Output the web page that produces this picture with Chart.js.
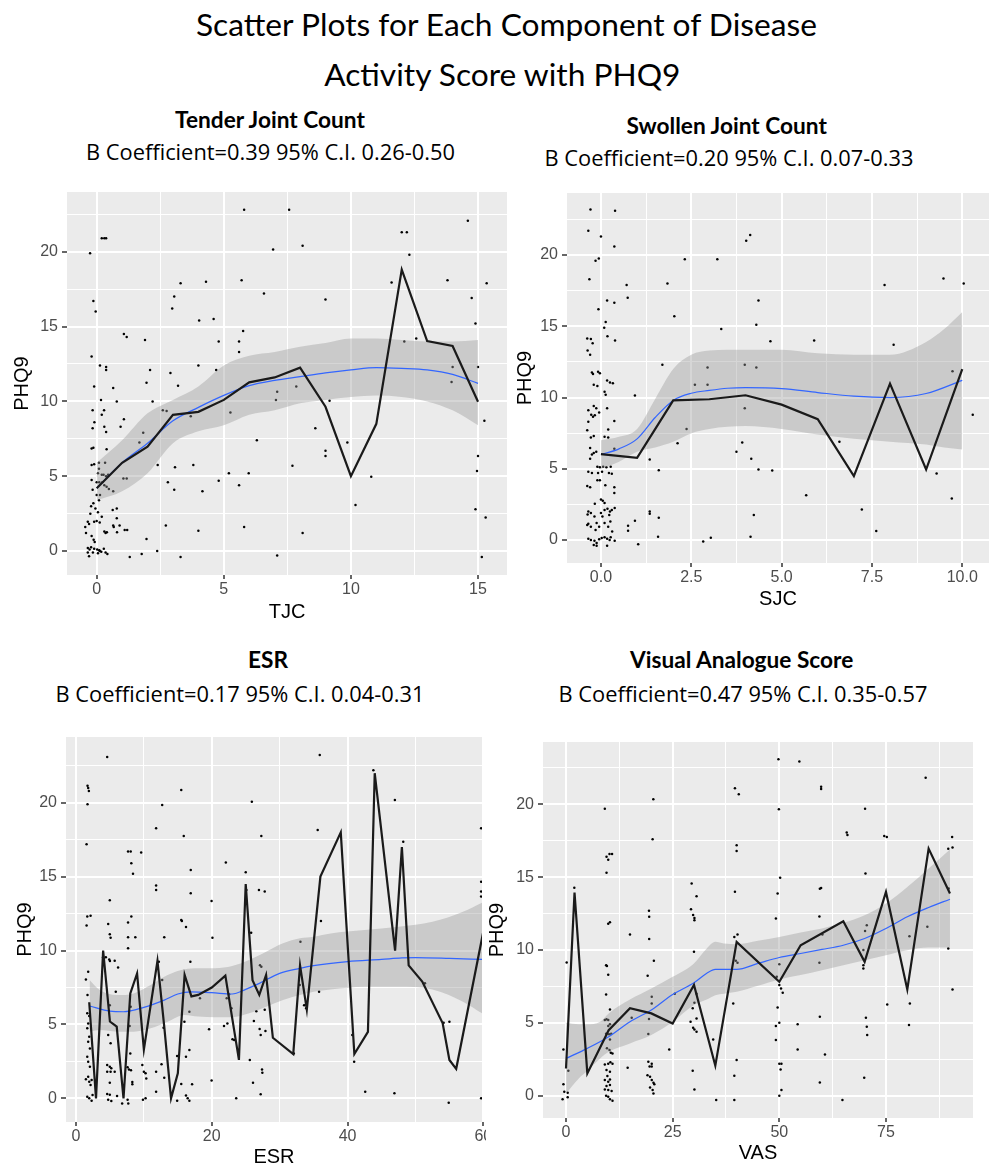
<!DOCTYPE html>
<html>
<head>
<meta charset="utf-8">
<script src="https://cdn.jsdelivr.net/npm/chart.js@4.4.1/dist/chart.umd.min.js"></script>
<style>
html, body { margin: 0; padding: 0; background: #fff; }
body { width: 993px; height: 1167px; position: relative; overflow: hidden; }
canvas { position: absolute; }
.txt { position: absolute; white-space: nowrap; line-height: 1; color: #000; }
</style>
</head>
<body>
<div id="title1" class="txt">Scatter Plots for Each Component of Disease</div>
<div id="title2" class="txt">Activity Score with PHQ9</div>
<div id="head1" class="txt">Tender Joint Count</div>
<div id="sub1" class="txt">B Coefficient=0.39 95% C.I. 0.26-0.50</div>
<div id="head2" class="txt">Swollen Joint Count</div>
<div id="sub2" class="txt">B Coefficient=0.20 95% C.I. 0.07-0.33</div>
<div id="head3" class="txt">ESR</div>
<div id="sub3" class="txt">B Coefficient=0.17 95% C.I. 0.04-0.31</div>
<div id="head4" class="txt">Visual Analogue Score</div>
<div id="sub4" class="txt">B Coefficient=0.47 95% C.I. 0.35-0.57</div>
<canvas id="c1" width="512" height="445"></canvas>
<canvas id="c2" width="493" height="440"></canvas>
<canvas id="c3" width="486" height="442"></canvas>
<canvas id="c4" width="506" height="437"></canvas>
<script>
// shared y axis (PHQ9)
const phqTicks = [0, 5, 10, 15, 20];
const phqMinor = [2.5, 7.5, 12.5, 17.5, 22.5];

// Tender joint count
const tjcTicks = [0, 5, 10, 15];
const tjcMinor = [2.5, 7.5, 12.5];
const tjcMean = [[0,4.2],[1,5.9],[2,6.97],[3,9.1],[4,9.3],[5,10.1],[6,11.27],[7,11.6],[8,12.25],[9,9.64],[10,5.0],[11,8.5],[12,18.8],[13,14.03],[14,13.7],[15,9.98]];
const tjcSmooth = [[0,4.2],[1,5.9],[2,7.2],[3,8.7],[4,9.6],[5,10.4],[6,11.05],[7,11.4],[8,11.65],[9,11.9],[10,12.1],[11,12.25],[12,12.2],[13,12.1],[14,11.8],[15,11.2]];
const tjcUpper = [[0,5.9],[1,7.4],[2,9.2],[3,10.1],[4,11.0],[5,12.4],[6,13.05],[7,13.3],[8,13.65],[9,13.9],[10,14.2],[11,14.2],[12,14.1],[13,14.0],[14,14.0],[15,14.1]];
const tjcLower = [[0,3.4],[1,4.0],[2,5.2],[3,7.2],[4,8.0],[5,8.4],[6,9.1],[7,9.4],[8,9.87],[9,10.1],[10,10.3],[11,10.4],[12,10.3],[13,10.0],[14,9.4],[15,8.4]];
const tjcPoints = [
  [-0.26,19.9],[-0.13,16.7],[-0.04,16.0],[-0.2,13.0],[-0.1,11.0],[0.2,20.9],[0.3,20.9],[0.37,20.9],
  [0.13,12.4],[0.37,12.3],[0.37,12.1],[0.17,10.1],[-0.16,9.4],[0.29,9.4],[0.2,9.1],[-0.09,8.6],[-0.16,8.2],[0.3,8.3],[0.37,7.95],
  [-0.2,6.85],[-0.13,6.9],[0.39,6.8],[-0.2,5.75],[-0.1,5.8],[0.09,5.9],[0.33,5.9],[0.09,5.5],[0.05,5.2],[0.2,5.1],[0.27,5.1],[0.37,5.0],[0.45,5.1],
  [-0.2,4.75],[0.0,4.6],[0.1,4.6],[0.22,4.6],[0.3,4.4],[0.39,4.3],[0.48,4.15],[-0.16,4.1],[0.0,3.75],[0.13,3.75],[-0.13,3.2],[0.09,3.4],[-0.05,2.85],
  [-0.22,3.0],[0.05,2.6],[0.2,2.3],[-0.25,2.5],[-0.35,1.95],[-0.3,1.8],[-0.1,1.95],[0.0,2.0],[0.12,1.9],[-0.45,1.6],[-0.42,1.2],[-0.2,1.0],
  [0.3,1.3],[0.35,1.2],[0.4,1.25],[-0.12,0.75],[-0.08,0.6],[-0.35,0.2],[-0.28,0.1],[-0.22,0.25],[-0.1,0.15],[0.02,0.1],[0.1,0.05],[0.18,-0.05],
  [0.28,0.15],[0.35,-0.1],[-0.35,-0.1],[-0.3,-0.35],[-0.15,-0.1],[0.05,-0.15],[0.12,0.0],[0.42,-0.2],
  [1.07,14.5],[1.18,14.3],[0.65,10.9],[0.79,10.0],[1.07,8.8],[0.94,8.3],[0.65,4.0],[0.63,2.75],[0.79,2.85],[1.05,4.85],[1.18,4.85],
  [0.65,1.7],[0.67,1.6],[0.9,1.7],[0.79,2.2],[1.1,1.4],[1.2,1.4],[1.3,-0.4],[0.8,1.25],
  [1.9,14.1],[2.1,12.1],[1.96,11.25],[1.83,7.9],[1.68,7.25],[1.96,0.8],[1.77,-0.2],[2.2,10.0],[2.4,5.75],[2.38,0.0],[2.6,9.4],[2.75,9.35],[2.8,4.6],[2.72,1.7],
  [3.3,17.9],[3.05,17.0],[2.97,16.2],[2.9,11.9],[3.2,11.05],[3.08,5.6],[3.05,4.1],[3.3,-0.4],
  [4.3,18.0],[4.03,15.4],[4.6,15.5],[4.0,12.4],[4.7,12.1],[3.7,9.0],[3.8,5.75],[4.16,4.0],[4.0,1.35],[4.8,14.0],[4.8,4.7],
  [5.8,22.8],[5.7,18.1],[5.76,14.7],[5.6,14.0],[5.6,13.3],[5.26,9.26],[5.2,5.2],[5.98,5.2],[5.6,4.4],[5.8,1.6],[6.3,7.4],
  [7.57,22.8],[6.94,20.15],[6.58,17.2],[7.1,10.65],[7.05,10.1],[7.1,-0.3],[7.7,5.7],
  [8.1,20.4],[7.85,11.0],[8.6,8.2],[9.0,16.8],[9.0,6.7],[9.0,6.35],[9.16,10.05],[8.1,1.2],
  [9.86,7.26],[10.18,3.07],[10.8,4.97],
  [12.0,21.3],[12.2,21.3],[12.3,19.8],[11.6,17.95],[12.1,14.0],[12.57,14.2],
  [14.6,22.07],[13.8,18.1],[14.75,16.9],[14.9,15.2],[14.0,12.3],[13.96,11.3],[15.0,12.3],[15.34,17.9],[15.25,8.7],[15.0,6.35],
  [14.96,5.35],[14.9,2.8],[15.3,2.25],[15.15,-0.4]
];

// Swollen joint count
const sjcTicks = [0, 2.5, 5, 7.5, 10];
const sjcMinor = [1.25, 3.75, 6.25, 8.75];
const sjcMean = [[0,6.03],[1,5.77],[2,9.8],[3,9.88],[4,10.16],[5,9.5],[6,8.48],[7,4.49],[8,10.98],[9,4.95],[10,11.99]];
const sjcSmooth = [[0,6.0],[0.5,6.4],[1,7.1],[1.5,8.6],[2,9.8],[2.5,10.3],[3,10.5],[3.5,10.65],[4,10.7],[5,10.63],[6,10.35],[7,10.1],[8,10.0],[9,10.28],[10,11.2]];
const sjcUpper = [[0,7.0],[0.5,7.24],[1,7.8],[1.5,9.9],[2,12.0],[2.5,13.0],[3,13.3],[4,13.36],[5,13.36],[6,13.1],[7,13.0],[8,13.0],[9,13.9],[9.5,14.8],[10,16.0]];
const sjcLower = [[0,5.0],[0.5,5.5],[1,6.2],[1.5,6.5],[2,6.9],[2.5,7.5],[3,7.8],[4,8.0],[5,7.8],[6,7.4],[7,7.1],[8,6.9],[9,6.7],[9.5,6.5],[10,6.35]];
const sjcPoints = [
  [-0.29,23.2],[0.39,23.1],[-0.35,21.7],[0.0,21.3],[0.37,20.6],[-0.15,19.6],[-0.06,19.75],[-0.32,18.3],[-0.07,16.2],[0.17,16.8],[0.37,16.65],
  [0.13,15.3],[0.09,14.9],[0.18,14.3],[0.39,14.0],[-0.38,14.15],[-0.28,14.1],[-0.23,13.8],[-0.37,13.3],[-0.3,13.0],
  [-0.25,11.75],[-0.22,11.65],[-0.08,11.8],[-0.03,11.7],[-0.2,10.9],[-0.1,10.8],[0.17,11.2],[0.25,11.05],[0.33,11.0],[0.1,10.4],[0.13,10.2],
  [-0.35,9.1],[-0.2,9.4],[-0.13,9.25],[-0.27,8.8],[-0.22,8.65],[-0.17,8.75],[-0.05,8.95],[0.17,9.25],[0.37,8.35],[-0.35,8.3],[-0.38,7.7],
  [-0.28,7.2],[-0.2,7.3],[0.1,7.25],[0.2,7.2],[0.2,7.75],[0.37,6.4],[-0.3,6.45],[-0.25,6.0],[-0.2,6.1],[-0.13,6.2],[-0.3,5.7],
  [-0.1,5.15],[-0.03,5.1],[0.06,5.15],[0.15,5.1],[0.27,5.15],[-0.35,4.8],[-0.25,4.7],[-0.08,4.7],[0.03,4.8],[0.22,4.7],[0.3,4.65],
  [-0.38,3.8],[-0.3,3.7],[-0.1,4.2],[-0.03,4.2],[0.12,3.85],[0.37,3.7],[0.37,3.3],
  [0.0,2.85],[0.05,2.75],[0.1,2.6],[-0.17,2.55],[0.18,2.2],[0.1,2.1],[0.25,2.0],[0.3,2.1],[0.38,2.25],[-0.35,2.0],[-0.37,1.8],[-0.28,1.9],
  [-0.18,1.65],[0.0,1.9],[0.04,1.65],[0.23,1.75],[0.26,1.3],
  [-0.35,1.15],[-0.38,1.05],[-0.28,0.93],[-0.12,1.2],[-0.05,0.93],[-0.15,0.7],[0.1,1.2],[0.2,0.93],[0.31,0.6],[0.27,0.2],
  [-0.35,0.1],[-0.28,0.0],[-0.18,-0.05],[-0.12,-0.2],[-0.05,0.05],[0.02,0.15],[0.1,0.2],[0.17,0.1],[0.24,0.0],[0.38,-0.05],[-0.2,-0.35],[-0.12,-0.4],[0.17,-0.4],
  [0.71,17.9],[0.74,17.0],[0.94,10.15],[0.75,1.0],[0.75,0.65],[0.94,1.35],[1.03,-0.3],[1.35,5.65],[1.35,2.0],[1.35,1.85],[1.6,4.9],[1.6,1.57],[1.58,0.23],
  [1.7,12.3],[1.84,18.0],[2.03,15.7],[2.12,6.8],[2.32,19.7],[2.37,7.8],[2.6,10.9],[2.83,-0.1],[3.04,0.16],[2.95,12.1],[2.95,10.9],[3.22,19.7],[3.33,14.8],
  [3.75,6.2],[3.91,6.85],[3.98,12.3],[3.98,9.25],[4.02,21.0],[4.13,21.4],[4.16,5.7],[4.14,0.23],[4.23,1.75],[4.3,15.1],[4.36,16.8],[4.3,12.1],[4.36,4.95],
  [4.69,13.95],[4.74,4.88],[5.68,3.15],[5.9,14.0],[6.6,6.9],[7.22,2.15],[7.62,0.63],[7.85,17.9],[8.1,13.7],[9.29,4.67],[9.48,18.35],[10.04,18.0],
  [9.73,11.85],[9.71,2.92],[10.29,8.8]
];

// ESR
const esrTicks = [0, 20, 40, 60];
const esrMinor = [10, 30, 50];
const esrMean = [[1.95,6.5],[2.95,0],[4,10],[5,5.2],[6,4.85],[7,0],[8,7.1],[9,8.45],[10,3.3],[12,9.3],[13,4.85],[14,0],[15,1.7],[16,8.35],[17,6.9],[18,7.0],
  [20,7.5],[22,8.3],[24,2.6],[25,14.5],[26,8.0],[27,7.0],[28,8.35],[29,4.1],[32,3.0],[33,9.0],[34,6.0],[36,15.0],[39,18.0],[41,3.0],[43,4.5],[44,22.0],
  [47,10.0],[48,17.0],[49,9.0],[51,7.9],[54,5.1],[55,2.6],[56,2.0],[60,11.3]];
const esrSmooth = [[2,6.25],[5,5.9],[7,5.86],[10,6.16],[13,6.65],[15,7.06],[17,7.2],[20,7.15],[23,7.06],[25,7.37],[27,7.78],[30,8.46],[33,8.8],[35,8.98],
  [40,9.25],[45,9.4],[48,9.5],[50,9.52],[55,9.47],[59.8,9.4]];
const esrUpper = [[2,8.0],[3.5,7.33],[6,6.99],[8.5,7.1],[11,7.67],[13.5,8.34],[16,8.73],[18,8.8],[20.5,8.8],[23,8.95],[25.5,9.36],[28,9.92],[30.5,10.49],
  [33,10.83],[35,10.94],[37.5,11.16],[42.5,11.39],[47.5,11.61],[52.5,11.95],[57,12.63],[59.8,13.24]];
const esrLower = [[2,4.51],[3.5,4.62],[6,4.51],[8.5,4.51],[11,4.74],[13.5,5.19],[16,5.64],[18,5.53],[20.5,5.48],[23,5.48],[25.5,5.75],[28,6.2],[30.5,6.65],
  [33,6.99],[35,7.22],[37.5,7.37],[42.5,7.55],[47.5,7.55],[52.5,7.37],[57,6.54],[59.8,5.75]];
const esrPoints = [
  [1.56,17.2],[1.7,21.15],[1.8,21.0],[1.9,20.8],[1.7,19.9],[1.66,12.3],[2.15,12.35],[1.56,11.7],[1.8,8.57],[1.46,8.05],[1.7,7.0],[1.66,5.75],[1.95,5.57],
  [1.8,5.07],[1.66,4.74],[1.95,4.17],[1.8,3.83],[2.05,3.38],[1.66,2.82],[1.8,2.48],[2.05,2.14],[1.46,1.29],[1.8,1.47],[1.95,1.13],[2.15,0.9],[2.3,1.24],
  [1.66,0.11],[1.95,0.0],[2.3,-0.16],[2.44,0.23],
  [4.6,23.1],[4.98,13.4],[4.74,11.8],[4.98,11.1],[5.1,10.87],[4.0,9.54],[4.4,9.54],[4.9,9.4],[5.0,9.3],[5.7,9.31],[6.2,8.86],[5.86,7.22],[4.98,6.3],
  [4.74,4.28],[5.1,3.72],[4.6,2.26],[4.98,2.14],[5.2,2.03],[4.6,1.8],[5.1,1.8],[5.7,1.8],[4.98,1.06],[4.6,0.3],[4.98,0.25],[4.74,-0.1],[5.2,-0.18],
  [6.05,0.16],[6.8,-0.34],
  [7.67,16.7],[8.06,16.7],[8.15,15.9],[8.4,15.2],[8.15,12.3],[7.67,11.9],[7.67,10.9],[7.67,10.15],[8.74,10.9],[9.6,16.64],[8.06,6.2],[7.9,4.9],[8.0,3.04],
  [7.6,2.1],[7.8,1.96],[8.1,1.9],[8.3,1.1],[8.3,0.95],[7.6,-0.1],[7.7,-0.34],[9.77,2.26],[10.0,1.8],[10.25,1.7],[10.35,1.35],[9.86,-0.1],[10.25,0.0],
  [11.8,18.27],[11.8,14.4],[11.8,14.1],[12.7,19.85],[12.2,9.25],[13.0,10.9],[12.6,2.3],[11.8,1.8],[13.0,1.4],[11.8,0.45],[12.9,4.78],[12.7,8.0],
  [14.9,2.86],[14.9,-0.16],
  [15.5,20.86],[15.87,17.75],[15.5,12.07],[15.6,12.0],[16.2,11.6],[16.9,15.45],[16.9,13.87],[16.85,9.25],[16.7,5.86],[15.97,5.19],[16.2,2.82],[16.7,3.27],
  [15.5,0.97],[16.2,0.2],[16.45,0.0],[16.7,-0.16],[17.1,0.95],[18.26,6.77],
  [19.97,13.35],[20.1,10.87],[19.6,4.67],[19.97,1.2],[22.07,15.95],[21.8,4.9],[22.3,5.07],[22.55,7.04],[22.2,6.77],[22.9,6.09],[23.05,4.0],[23.3,3.95],[23.6,0.0],
  [25.0,15.3],[25.1,14.1],[25.8,11.2],[25.9,20.07],[25.6,2.6],[26.07,1.06],[26.2,5.23],[26.95,14.1],[27.1,9.0],[27.3,8.9],[26.56,5.9],[27.05,4.7],[27.2,4.28],
  [27.4,1.96],[27.45,1.74],[27.2,0.27],[27.3,17.75],[27.8,14.0],[27.9,4.56],[27.8,6.0],
  [32.08,3.04],[33.06,10.6],[32.96,7.67],[33.6,6.3],[33.9,6.09],[35.6,18.15],[35.9,23.23],[36.08,12.0],[35.8,7.22],
  [40.7,4.28],[40.97,2.48],[42.6,0.45],[43.8,22.2],[46.97,20.18],[46.9,0.34],[48.2,17.37],[51.4,7.78],[54.15,5.12],[55.0,5.19],[54.9,-0.3],
  [59.67,18.27],[59.67,14.66],[59.67,14.0],[59.67,13.65],[59.67,0.0]
];

// Visual analogue score
const vasTicks = [0, 25, 50, 75];
const vasMinor = [12.5, 37.5, 62.5, 87.5];
const vasMean = [[0,1.87],[2,13.95],[5,1.53],[10,4.5],[15,6.0],[20,5.65],[25,4.96],[30,7.6],[35,2.06],[40,10.56],[50,7.82],[55,10.33],[65,11.98],
  [70,9.19],[75,13.99],[80,7.29],[85,16.96],[90,13.88]];
const vasSmooth = [[0,2.56],[5,3.25],[10,4.05],[15,5.08],[20,5.88],[25,6.95],[30,7.75],[33,8.4],[35,8.67],[37,8.67],[40,8.67],[45,9.08],[50,9.49],
  [55,9.76],[60,10.04],[65,10.33],[70,10.79],[75,11.48],[80,12.28],[85,12.92],[90,13.49]];
const vasUpper = [[0,5.0],[3,4.9],[5,4.9],[8,5.07],[10,5.65],[15,6.6],[20,7.36],[25,8.16],[30,9.08],[33,10.1],[35,10.56],[37,10.45],[40,10.4],[45,10.63],
  [50,10.9],[55,11.2],[60,11.48],[65,11.87],[70,12.39],[75,13.19],[80,14.33],[85,15.6],[90,16.9]];
const vasLower = [[0,0.16],[3,1.19],[5,1.71],[8,2.56],[10,3.02],[15,3.59],[20,4.16],[25,5.07],[30,6.22],[33,6.6],[35,6.9],[37,7.0],[40,7.13],[45,7.54],
  [50,7.98],[55,8.28],[60,8.62],[65,8.96],[70,9.3],[75,9.65],[80,9.99],[85,10.17],[90,10.17]];
const vasPoints = [
  [-0.6,0.78],[-0.8,-0.25],[-0.4,0.27],[-0.6,3.18],[0.16,9.14],[0.4,0.2],[0.4,-0.11],[0.55,1.71],[1.95,14.27],
  [9.1,19.7],[9.5,16.4],[9.9,16.2],[10.2,16.6],[10.8,16.6],[9.5,15.3],[9.9,11.8],[10.3,11.9],[9.4,8.96],[9.6,8.9],[9.9,8.3],[9.4,6.95],[10.3,5.92],
  [9.1,5.2],[9.5,5.25],[9.9,5.2],[10.3,4.9],[9.4,4.25],[10.1,4.22],[10.6,4.25],[9.9,4.78],[10.3,3.86],[9.6,3.25],[10.2,3.13],[10.5,2.95],[10.9,2.9],
  [9.1,2.15],[9.9,2.2],[10.4,2.3],[10.9,2.2],[9.5,1.76],[10.3,1.65],[9.7,1.35],[9.1,1.07],[9.9,0.96],[10.3,1.12],[9.5,0.66],[10.3,0.73],
  [9.1,0.43],[9.9,0.39],[10.7,0.32],[9.4,0.0],[9.9,-0.07],[10.3,-0.25],[10.9,-0.34],
  [15.0,11.07],[14.45,1.92],[15.4,5.35],
  [20.47,20.35],[20.3,17.6],[19.45,12.7],[19.5,12.28],[19.5,10.75],[20.6,9.26],[19.14,8.23],[20.1,6.8],[20.1,6.33],[19.45,5.26],[19.3,4.23],
  [19.3,2.33],[20.1,2.2],[19.6,2.0],[20.1,2.0],[19.1,1.41],[19.7,1.3],[20.1,1.07],[20.5,0.89],[20.7,0.78],[19.7,0.57],[20.3,0.39],[20.5,0.16],
  [24.2,3.18],[25.5,7.0],
  [29.45,14.56],[29.3,12.8],[29.8,12.4],[30.1,12.2],[30.1,12.05],[30.6,13.7],[30.0,9.88],[29.7,6.0],[30.1,6.38],[30.6,7.0],[29.2,5.08],[29.8,4.66],
  [30.1,4.55],[30.6,4.39],[29.7,1.71],[30.1,0.43],[30.6,5.3],
  [34.5,3.86],[35.2,-0.3],
  [39.6,21.1],[40.5,20.7],[40.0,17.2],[40.0,16.8],[39.6,14.0],[39.45,10.9],[40.2,11.07],[39.8,9.26],[40.2,9.12],[39.2,6.33],[40.0,2.45],[39.45,1.37],[39.45,-0.3],
  [49.8,23.1],[49.9,19.66],[50.2,14.97],[49.6,13.88],[49.2,12.16],[50.0,9.03],[49.4,8.16],[50.0,7.6],[50.4,7.36],[50.8,7.06],[49.6,6.06],[49.2,4.78],
  [50.0,5.0],[49.2,3.82],[50.0,2.2],[50.5,2.2],[50.3,1.8],[50.5,0.39],[50.0,0.0],
  [54.7,22.95],[54.3,4.9],[54.3,3.18],
  [59.8,21.2],[59.8,21.05],[59.5,14.2],[59.8,14.25],[59.4,12.3],[59.4,9.12],[59.5,5.42],[60.1,11.07],[60.7,2.83],[59.5,0.9],
  [65.8,18.06],[65.97,17.9],[64.8,-0.3],
  [70.1,19.7],[70.2,15.25],[70.5,11.7],[70.1,11.3],[69.7,10.0],[69.7,8.96],[69.7,8.73],[70.3,5.35],[70.5,4.73],[70.6,4.16],[69.9,1.23],
  [74.6,17.83],[75.2,17.76],[75.3,6.26],
  [80.5,10.95],[80.6,6.33],[80.4,4.85],
  [84.3,21.83],[84.7,11.6],
  [89.6,16.96],[90.5,17.76],[90.6,17.03],[89.7,14.22],[89.6,10.1],[90.6,7.29]
];

// page layout: canvas box and plot area, both in page pixels
const panels = [
  { id: 'c1', box: [0, 185, 512, 445], area: [67, 192, 507, 575], xMin: -1.168, xMax: 16.14, yMin: -1.6, yMax: 23.99,
    xTicks: tjcTicks, xMinor: tjcMinor, xTitle: 'TJC', xFmt: v => String(v), xTitlePad: 8, yTitlePad: 12,
    mean: tjcMean, smooth: tjcSmooth, upper: tjcUpper, lower: tjcLower, points: tjcPoints },
  { id: 'c2', box: [500, 185, 493, 440], area: [567, 193, 990, 563], xMin: -0.94, xMax: 10.74, yMin: -1.61, yMax: 24.35,
    xTicks: sjcTicks, xMinor: sjcMinor, xTitle: 'SJC', xFmt: v => v.toFixed(1), xTitlePad: 16, yTitlePad: 15,
    mean: sjcMean, smooth: sjcSmooth, upper: sjcUpper, lower: sjcLower, points: sjcPoints },
  { id: 'c3', box: [0, 725, 486, 442], area: [66, 737, 484, 1122], xMin: -1.47, xMax: 59.8, yMin: -1.6, yMax: 24.45,
    xTicks: esrTicks, xMinor: esrMinor, xTitle: 'ESR', xFmt: v => String(v), xTitlePad: 0, yTitlePad: 15,
    mean: esrMean, smooth: esrSmooth, upper: esrUpper, lower: esrLower, points: esrPoints },
  { id: 'c4', box: [487, 730, 506, 437], area: [543, 742, 973, 1118], xMin: -5.39, xMax: 95.4, yMin: -1.53, yMax: 24.28,
    xTicks: vasTicks, xMinor: vasMinor, xTitle: 'VAS', xFmt: v => String(v), xTitlePad: 4, yTitlePad: 0,
    mean: vasMean, smooth: vasSmooth, upper: vasUpper, lower: vasLower, points: vasPoints }
];

const axisFont = { family: 'Liberation Sans, Arial, sans-serif', size: 16 };
const titleFont = { family: 'Liberation Sans, Arial, sans-serif', size: 20, lineHeight: 1 };

const xy = arr => arr.map(p => ({ x: p[0], y: p[1] }));

function scaleOpts(major, minor, min, max, fmt, title, titlePad, horizontal, thickness) {
  return {
    type: 'linear', min, max,
    afterBuildTicks: s => { s.ticks = major.concat(minor).sort((a, b) => a - b).map(v => ({ value: v })); },
    afterFit: s => {
      if (horizontal) s.height = thickness; else s.width = thickness;
      s.paddingLeft = s.paddingRight = s.paddingTop = s.paddingBottom = 0;
    },
    ticks: {
      autoSkip: false, maxRotation: 0, padding: horizontal ? 1 : 4, color: '#4d4d4d', font: axisFont,
      callback: v => major.includes(v) ? fmt(v) : ''
    },
    grid: {
      color: '#ffffff',
      lineWidth: c => major.includes(c.tick && c.tick.value) ? 2 : 1,
      tickLength: horizontal ? 4 : 5,
      tickWidth: 1.5,
      tickColor: c => major.includes(c.tick && c.tick.value) ? '#333333' : 'rgba(0,0,0,0)'
    },
    border: { display: false },
    title: { display: true, text: title, color: '#000', font: titleFont, padding: horizontal ? { top: 0, bottom: titlePad } : { top: titlePad, bottom: 0 } }
  };
}

const panelBg = {
  id: 'panelBg',
  beforeDraw(chart) {
    const a = chart.chartArea, ctx = chart.ctx;
    ctx.save();
    ctx.fillStyle = '#ebebeb';
    ctx.fillRect(a.left, a.top, a.right - a.left, a.bottom - a.top);
    ctx.restore();
  }
};

panels.forEach(p => {
  const [bx, by, bw, bh] = p.box;
  const [L, T, R, B] = p.area;
  const cv = document.getElementById(p.id);
  cv.style.left = bx + 'px';
  cv.style.top = by + 'px';
  new Chart(cv, {
    type: 'line',
    data: {
      datasets: [
        { data: xy(p.mean), borderColor: '#1a1a1a', borderWidth: 2.2, pointRadius: 0, tension: 0, fill: false },
        { data: xy(p.smooth), borderColor: '#3366ff', borderWidth: 1.2, pointRadius: 0, cubicInterpolationMode: 'monotone', fill: false },
        { data: xy(p.upper), borderColor: 'rgba(0,0,0,0)', borderWidth: 0, pointRadius: 0, cubicInterpolationMode: 'monotone',
          fill: '+1', backgroundColor: 'rgba(153,153,153,0.4)' },
        { data: xy(p.lower), borderColor: 'rgba(0,0,0,0)', borderWidth: 0, pointRadius: 0, cubicInterpolationMode: 'monotone', fill: false },
        { data: xy(p.points), showLine: false, pointRadius: 1.25, pointBackgroundColor: '#000', pointBorderWidth: 0, fill: false }
      ]
    },
    options: {
      responsive: false, animation: false, devicePixelRatio: 1, events: [],
      layout: { padding: { left: 0, top: T - by, right: bx + bw - R, bottom: 0 } },
      plugins: { legend: { display: false }, tooltip: { enabled: false } },
      scales: {
        x: scaleOpts(p.xTicks, p.xMinor, p.xMin, p.xMax, p.xFmt, p.xTitle, p.xTitlePad, true, by + bh - B),
        y: scaleOpts(phqTicks, phqMinor, p.yMin, p.yMax, v => String(v), 'PHQ9', p.yTitlePad, false, L - bx)
      }
    },
    plugins: [panelBg]
  });
});

// headings: size each one to the width it has in the picture
function measure(text, font) {
  const c = document.createElement('canvas').getContext('2d');
  c.font = font;
  return c.measureText(text).width;
}
function place(id, family, weight, size, left, baseline) {
  const el = document.getElementById(id);
  el.style.fontFamily = family;
  el.style.fontWeight = weight;
  el.style.fontSize = size + 'px';
  el.style.left = left + 'px';
  el.style.top = (baseline - 0.888 * size) + 'px';
}
function fitSize(id, family, weight, width) {
  const text = document.getElementById(id).textContent;
  return 100 * width / measure(text, weight + ' 100px ' + family);
}
function centerLeft(id, family, weight, size, cx) {
  const text = document.getElementById(id).textContent;
  return cx - measure(text, weight + ' ' + size + 'px ' + family) / 2;
}

const mainFamily = 'Lato';
const subFamily = 'Open Sans';
const mainSize = fitSize('title1', mainFamily, 'normal', 623);
place('title1', mainFamily, 'normal', mainSize, 196, 37);
place('title2', mainFamily, 'normal', mainSize, centerLeft('title2', mainFamily, 'normal', mainSize, 503), 87);

const headSize = fitSize('head1', mainFamily, 'bold', 191);
const subSize = fitSize('sub1', subFamily, 'normal', 369);
[['head1', 270.5, 129], ['head2', 727, 135], ['head3', 268, 669], ['head4', 742, 669]].forEach(([id, cx, b]) =>
  place(id, mainFamily, 'bold', headSize, centerLeft(id, mainFamily, 'bold', headSize, cx), b));
[['sub1', 270.5, 160], ['sub2', 729, 166], ['sub3', 240, 702], ['sub4', 743, 702]].forEach(([id, cx, b]) =>
  place(id, subFamily, 'normal', subSize, centerLeft(id, subFamily, 'normal', subSize, cx), b));
</script>
</body>
</html>
